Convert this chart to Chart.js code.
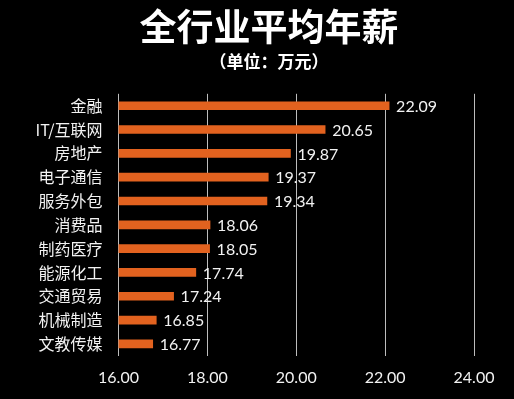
<!DOCTYPE html>
<html>
<head>
<meta charset="utf-8">
<script src="https://cdn.jsdelivr.net/npm/chart.js@4/dist/chart.umd.min.js"></script>
<style>
  html, body { margin: 0; padding: 0; background: #000; }
  #wrap { width: 514px; height: 399px; position: relative; }
</style>
</head>
<body>
<div id="wrap"><canvas id="c" width="514" height="399"></canvas></div>
<script>
const categories = ['金融', 'IT/互联网', '房地产', '电子通信', '服务外包', '消费品', '制药医疗', '能源化工', '交通贸易', '机械制造', '文教传媒'];
const salaries = [22.09, 20.65, 19.87, 19.37, 19.34, 18.06, 18.05, 17.74, 17.24, 16.85, 16.77];
const xTicks = [16, 18, 20, 22, 24];
const titleText = '全行业平均年薪';
const subtitleText = '（单位：万元）';

const numFont = 'Lato, "Noto Sans", sans-serif';
const cjkFont = '"Noto Sans CJK SC", "Noto Sans", sans-serif';

const valueLabels = {
  id: 'valueLabels',
  afterDatasetsDraw(chart) {
    const ctx = chart.ctx;
    const meta = chart.getDatasetMeta(0);
    ctx.save();
    ctx.fillStyle = '#f2f2f2';
    ctx.font = '16px ' + numFont;
    ctx.textAlign = 'left';
    ctx.textBaseline = 'middle';
    meta.data.forEach((bar, i) => {
      ctx.fillText(salaries[i].toFixed(2), bar.x + 7, bar.y + 1);
    });
    ctx.restore();
  }
};

new Chart(document.getElementById('c'), {
  type: 'bar',
  data: {
    labels: categories,
    datasets: [{
      data: salaries,
      backgroundColor: '#e2621f',
      borderWidth: 0,
      barThickness: 8
    }]
  },
  options: {
    indexAxis: 'y',
    responsive: false,
    animation: false,
    layout: { padding: { left: 24, right: 0, top: 0, bottom: 0 } },
    plugins: {
      legend: { display: false },
      tooltip: { enabled: false },
      title: {
        display: true,
        text: titleText,
        color: '#ffffff',
        font: { family: cjkFont, size: 37, weight: 'bold', lineHeight: 1.2 },
        padding: { top: 5, bottom: 0 }
      },
      subtitle: {
        display: true,
        text: subtitleText,
        color: '#ffffff',
        font: { family: cjkFont, size: 17, weight: 'bold', lineHeight: 1.2 },
        padding: { top: 2, bottom: 22 }
      }
    },
    scales: {
      x: {
        type: 'linear',
        min: 16,
        max: 24,
        afterBuildTicks(scale) { scale.ticks = xTicks.map(v => ({ value: v })); },
        afterFit(scale) { scale.paddingRight = 40; },
        ticks: {
          color: '#f2f2f2',
          font: { family: numFont, size: 16 },
          padding: 12,
          callback: v => Number(v).toFixed(2)
        },
        grid: { color: '#bdbdbd', lineWidth: 1, drawTicks: false },
        border: { display: false }
      },
      y: {
        afterFit(scale) { scale.width = 118.5 - 24; },
        ticks: {
          color: '#f2f2f2',
          font: { family: cjkFont, size: 16 },
          padding: 16
        },
        grid: { display: false, drawTicks: false },
        border: { display: false }
      }
    }
  },
  plugins: [valueLabels]
});
</script>
</body>
</html>
